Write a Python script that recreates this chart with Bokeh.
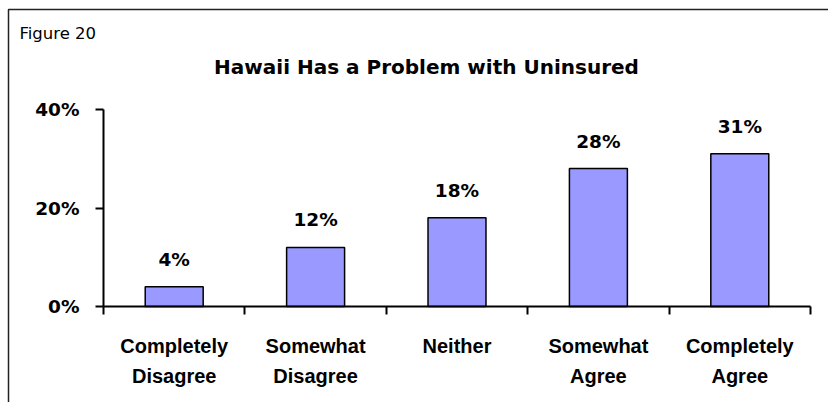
from bokeh.plotting import figure
from bokeh.models import (ColumnDataSource, LabelSet, Label, FixedTicker,
                          Range1d, PolyAnnotation)
from bokeh.core.properties import value
from bokeh.embed import file_html
from bokeh.resources import INLINE

# ---- data ----
categories = ["Completely\nDisagree", "Somewhat\nDisagree", "Neither",
              "Somewhat\nAgree", "Completely\nAgree"]
values = [4, 12, 18, 28, 31]
value_labels = ["4%", "12%", "18%", "28%", "31%"]
y_ticks = [0, 20, 40]
y_tick_labels = ["0%", "20%", "40%"]
title_text = "Hawaii Has a Problem with Uninsured"
figure_label = "Figure 20"

# ---- layout (pixels) ----
W, H = 828, 402
PX_LEFT, PX_RIGHT = 103, 810      # x-axis extent on screen
PX_ZERO, PX_TOP = 306, 109        # y pixel (from top) of 0% and 40%
n = len(categories)
ymax = y_ticks[-1]
sx = (PX_RIGHT - PX_LEFT) / n     # px per category
sy = (PX_ZERO - PX_TOP) / ymax    # px per percent

x_range = Range1d(-PX_LEFT / sx, (W - PX_LEFT) / sx)
y_range = Range1d(-(H - PX_ZERO) / sy, PX_ZERO / sy)

xs = [i + 0.5 for i in range(n)]
line1 = [c.split("\n")[0] for c in categories]
line2 = [c.split("\n")[1] if "\n" in c else "" for c in categories]

src = ColumnDataSource(dict(x=xs, top=values, lab=value_labels,
                            l1=line1, l2=line2, zero=[0] * n))

p = figure(width=W, height=H, output_backend="svg", toolbar_location=None,
           x_range=x_range, y_range=y_range, min_border=0)
p.outline_line_color = None
p.background_fill_color = "white"
p.border_fill_color = "white"
p.xgrid.visible = False
p.ygrid.visible = False

p.vbar(x="x", top="top", width=0.41, source=src,
       fill_color="#9999FF", line_color="black", line_width=1.5)

# y axis
ya = p.yaxis[0]
ya.fixed_location = 0
ya.bounds = (0, ymax)
ya.ticker = FixedTicker(ticks=y_ticks)
ya.major_label_overrides = {t: l for t, l in zip(y_ticks, y_tick_labels)}
ya.axis_line_width = 2
ya.axis_line_color = "black"
ya.major_tick_out = 8
ya.major_tick_in = 0
ya.major_tick_line_width = 2
ya.minor_tick_line_color = None
ya.major_label_standoff = 16
ya.major_label_text_font = "DejaVu Sans"
ya.major_label_text_font_style = "bold"
ya.major_label_text_font_size = "18.5px"
ya.major_label_text_color = "black"

# x axis (boundary ticks, labels drawn separately)
xa = p.xaxis[0]
xa.fixed_location = 0
xa.bounds = (0, n)
xa.ticker = FixedTicker(ticks=list(range(n + 1)))
xa.major_label_overrides = {i: "" for i in range(n + 1)}
xa.axis_line_width = 2
xa.axis_line_color = "black"
xa.major_tick_out = 8
xa.major_tick_in = 0
xa.major_tick_line_width = 2
xa.minor_tick_line_color = None

# value labels
p.add_layout(LabelSet(x="x", y="top", text="lab", source=src, y_offset=21,
                      text_align="center", text_baseline="alphabetic",
                      text_font=value("DejaVu Sans"),
                      text_font_style="bold",
                      text_font_size=value("18.5px"), text_color="black"))

# category labels
for col, off in (("l1", -46), ("l2", -76)):
    p.add_layout(LabelSet(x="x", y="zero", text=col, source=src,
                          y_offset=off, text_align="center",
                          text_baseline="alphabetic",
                          text_font=value("Liberation Sans"),
                          text_font_style="bold",
                          text_font_size=value("20px"), text_color="black"))

# title and figure label
p.add_layout(Label(x=426, y=H - 66, x_units="screen", y_units="screen",
                   text=title_text, text_align="center",
                   text_baseline="alphabetic", text_font="DejaVu Sans",
                   text_font_style="bold", text_font_size="20px",
                   text_color="black"))
p.add_layout(Label(x=19, y=H - 33, x_units="screen", y_units="screen",
                   text=figure_label, text_align="left",
                   text_baseline="alphabetic", text_font="DejaVu Sans",
                   text_font_size="16.5px", text_color="black"))

# outer frame (left and top edges)
p.add_layout(PolyAnnotation(xs=[8, 8, W + 10, W + 10],
                            ys=[-10, H - 9, H - 9, -10],
                            xs_units="screen", ys_units="screen",
                            fill_alpha=0, line_color="#222222",
                            line_alpha=1.0, line_width=1.5))

open("out.html", "w").write(file_html(p, INLINE))
